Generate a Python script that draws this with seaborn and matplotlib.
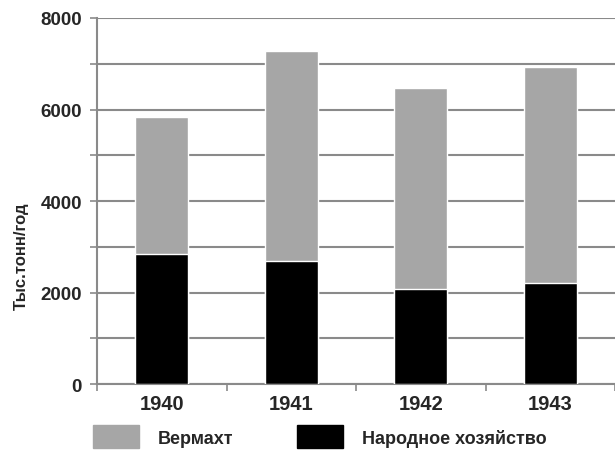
import numpy as np
import matplotlib
matplotlib.use('Agg')
import matplotlib.pyplot as plt
import matplotlib.patches as mpatches
from matplotlib.ticker import MultipleLocator
import seaborn as sns
import pandas as pd

# Data
years = ['1940', '1941', '1942', '1943']
wehrmacht = [2990, 4580, 4390, 4730]        # thousand t / year
economy = [2850, 2700, 2080, 2200]          # thousand t / year
labels = ['Вермахт', 'Народное хозяйство']

totals = [w + e for w, e in zip(wehrmacht, economy)]
df = pd.DataFrame({'year': years, 'total': totals, 'economy': economy})

sns.set_style('white')
plt.rcParams['font.family'] = ['Liberation Sans', 'DejaVu Sans']

fig = plt.figure(figsize=(6.15, 4.52), dpi=100)
ax = fig.add_axes([0.158, 0.148, 0.842, 0.810])

grid_col = '#8a8a8a'
ax.yaxis.set_major_locator(MultipleLocator(2000))
ax.yaxis.set_minor_locator(MultipleLocator(1000))
ax.grid(True, which='both', axis='y', color=grid_col, linewidth=1.5, zorder=0)
ax.set_axisbelow(True)

sns.barplot(data=df, x='year', y='total', color='#a6a6a6', width=0.41,
            saturation=1, ax=ax, zorder=3)
sns.barplot(data=df, x='year', y='economy', color='#000000', width=0.41,
            saturation=1, ax=ax, zorder=4)

ax.set_ylim(0, 8000)
ax.set_xlim(-0.5, 3.5)
ax.set_xlabel('')
ax.set_ylabel('Тыс.тонн/год', fontsize=12, fontweight='bold')
ax.yaxis.set_label_coords(-0.132, 0.352)

for s in ['top', 'right']:
    ax.spines[s].set_visible(False)
for s in ['left', 'bottom']:
    ax.spines[s].set_color(grid_col)
    ax.spines[s].set_linewidth(1.5)

ax.tick_params(axis='y', which='both', direction='out', length=5,
               color=grid_col, width=1.2, left=True)
ax.tick_params(axis='y', which='major', labelsize=13.5, pad=6)
for t in ax.get_yticklabels():
    t.set_fontweight('bold')

# category labels without ticks; boundary ticks between categories
ax.tick_params(axis='x', which='major', length=0, labelsize=14.5, pad=7)
for t in ax.get_xticklabels():
    t.set_fontweight('bold')
ax.set_xticks(np.arange(-0.5, 4.0, 1.0), minor=True)
ax.tick_params(axis='x', which='minor', direction='out', length=5,
               color=grid_col, width=1.2, bottom=True)

handles = [mpatches.Patch(color='#a6a6a6'), mpatches.Patch(color='#000000')]
fig.legend(handles, labels, loc='upper left',
           bbox_to_anchor=(93 / 615, 1 - 426 / 452),
           ncol=2, frameon=False, borderpad=0, borderaxespad=0,
           handlelength=2.55, handleheight=1.6,
           handletextpad=1.05, columnspacing=3.5,
           prop={'size': 13, 'weight': 'bold'})

fig.savefig('out.png', dpi=100, facecolor='white')
